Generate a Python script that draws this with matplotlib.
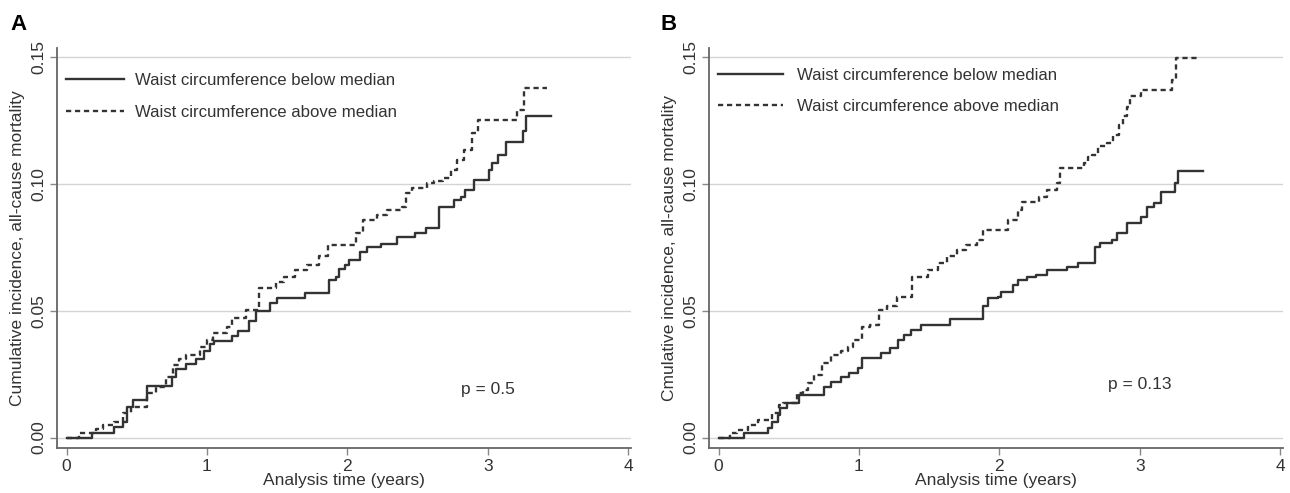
import matplotlib
matplotlib.use("Agg")
import matplotlib.pyplot as plt

plt.rcParams['font.family'] = ['Liberation Sans', 'DejaVu Sans']

# ---- data (time in years, cumulative incidence) ----
a_below_t = [0, 0.18, 0.34, 0.40, 0.43, 0.47, 0.57, 0.75, 0.78, 0.85, 0.92, 0.98, 1.02, 1.05,
             1.18, 1.22, 1.30, 1.35, 1.45, 1.50, 1.70, 1.87, 1.92, 1.94, 1.98, 2.01, 2.09, 2.14,
             2.24, 2.35, 2.48, 2.56, 2.65, 2.76, 2.81, 2.84, 2.90, 3.01, 3.03, 3.07, 3.13, 3.25,
             3.27, 3.45]
a_below_v = [0, 0.002, 0.004, 0.006, 0.012, 0.015, 0.0205, 0.024, 0.027, 0.029, 0.031, 0.034, 0.037, 0.038,
             0.040, 0.042, 0.046, 0.050, 0.053, 0.055, 0.057, 0.062, 0.0635, 0.0665, 0.068, 0.070, 0.0733, 0.075,
             0.0765, 0.079, 0.0807, 0.0828, 0.091, 0.0937, 0.095, 0.0977, 0.1016, 0.1056, 0.1083, 0.1114, 0.1167, 0.1207,
             0.1266, 0.1266]

a_above_t = [0, 0.09, 0.21, 0.26, 0.34, 0.40, 0.46, 0.57, 0.64, 0.71, 0.76, 0.80, 0.85, 0.95,
             1.00, 1.04, 1.14, 1.18, 1.28, 1.37, 1.49, 1.55, 1.63, 1.71, 1.80, 1.86, 2.06, 2.11,
             2.21, 2.28, 2.39, 2.42, 2.46, 2.57, 2.62, 2.68, 2.74, 2.78, 2.83, 2.89, 2.93, 3.21,
             3.26, 3.42]
a_above_v = [0, 0.0018, 0.0034, 0.005, 0.006, 0.0097, 0.0122, 0.0176, 0.020, 0.024, 0.0287, 0.031, 0.0326, 0.0359,
             0.0385, 0.0413, 0.0438, 0.047, 0.0503, 0.059, 0.0615, 0.0635, 0.066, 0.068, 0.0714, 0.076, 0.0807, 0.0858,
             0.0878, 0.0897, 0.091, 0.0964, 0.0985, 0.1003, 0.1010, 0.1024, 0.1056, 0.1095, 0.1134, 0.120, 0.1253, 0.1292,
             0.1379, 0.1379]

b_below_t = [0, 0.18, 0.35, 0.38, 0.42, 0.44, 0.49, 0.57, 0.75, 0.80, 0.87, 0.93, 0.99, 1.02,
             1.16, 1.22, 1.28, 1.32, 1.37, 1.44, 1.65, 1.88, 1.92, 1.99, 2.01, 2.10, 2.13, 2.20,
             2.26, 2.34, 2.48, 2.56, 2.68, 2.72, 2.80, 2.84, 2.91, 3.01, 3.05, 3.10, 3.15, 3.25,
             3.27, 3.45]
b_below_v = [0, 0.0018, 0.0038, 0.006, 0.009, 0.0117, 0.0137, 0.0168, 0.020, 0.022, 0.024, 0.0255, 0.0275, 0.0314,
             0.0334, 0.0354, 0.0385, 0.0405, 0.0425, 0.0444, 0.0467, 0.0517, 0.055, 0.0556, 0.0576, 0.0602, 0.0622, 0.0634,
             0.0642, 0.0659, 0.0673, 0.0689, 0.0753, 0.0767, 0.0779, 0.0807, 0.0846, 0.0871, 0.091, 0.0925, 0.097, 0.1003,
             0.1053, 0.1053]

b_above_t = [0, 0.085, 0.13, 0.21, 0.28, 0.38, 0.43, 0.46, 0.56, 0.60, 0.64, 0.68, 0.74, 0.80,
             0.87, 0.92, 0.96, 1.02, 1.08, 1.14, 1.20, 1.27, 1.38, 1.49, 1.56, 1.63, 1.70, 1.76,
             1.84, 1.88, 2.06, 2.13, 2.16, 2.28, 2.34, 2.41, 2.43, 2.60, 2.63, 2.66, 2.70, 2.77,
             2.81, 2.85, 2.88, 2.91, 2.93, 3.01, 3.23, 3.26, 3.42]
b_above_v = [0, 0.002, 0.003, 0.005, 0.007, 0.0097, 0.013, 0.0137, 0.0176, 0.0188, 0.0216, 0.0247, 0.0295, 0.0326,
             0.034, 0.0359, 0.0385, 0.0438, 0.0444, 0.0503, 0.0517, 0.0553, 0.0635, 0.066, 0.0689, 0.0714, 0.074, 0.076,
             0.0779, 0.0819, 0.0858, 0.0897, 0.093, 0.095, 0.0977, 0.1003, 0.1063, 0.1083, 0.1108, 0.1115, 0.1148, 0.116,
             0.1194, 0.1233, 0.1266, 0.1305, 0.1345, 0.137, 0.141, 0.1496, 0.1496]

label_below = "Waist circumference below median"
label_above = "Waist circumference above median"
yticks = [0.00, 0.05, 0.10, 0.15]
ytick_labels = ["0.00", "0.05", "0.10", "0.15"]
xticks = [0, 1, 2, 3, 4]

panels = [
    ("A", a_below_t, a_below_v, a_above_t, a_above_v, "p = 0.5", 0.0188,
     "Cumulative incidence, all-cause mortality", 3.5, 0.6, 0.937),
    ("B", b_below_t, b_below_v, b_above_t, b_above_v, "p = 0.13", 0.0208,
     "Cmulative incidence, all-cause mortality", 3.9, 0.85, 0.951),
]

fig = plt.figure(figsize=(12.9, 4.93), dpi=100)
axes_left = [57 / 1290, 709 / 1290]
line_col = "#333333"
text_col = "#333333"
spine_col = "#666666"

for (name, bt, bv, at, av, ptxt, py, ylab, hlen, hpad, legy), left in zip(panels, axes_left):
    ax = fig.add_axes([left, 45 / 493, 574 / 1290, 400 / 493])
    ax.set_xlim(-0.068, 4.02)
    ax.set_ylim(-0.0041, 0.1536)

    for y in yticks:
        ax.axhline(y, color="#d4d4d4", lw=1.0, zorder=0)

    ax.plot(bt, bv, drawstyle="steps-post", color=line_col, lw=1.7, label=label_below)
    ax.plot(at, av, drawstyle="steps-post", color=line_col, lw=1.7,
            linestyle=(0, (2.2, 1.6)), label=label_above)

    for s in ["top", "right"]:
        ax.spines[s].set_visible(False)
    for s in ["left", "bottom"]:
        ax.spines[s].set_color(spine_col)
        ax.spines[s].set_linewidth(1.3)

    ax.set_yticks(yticks)
    ax.set_yticklabels(ytick_labels, rotation=90, va="center", fontsize=12.5, color=text_col)
    ax.set_xticks(xticks)
    ax.set_xticklabels([str(x) for x in xticks], fontsize=12.5, color=text_col)
    ax.tick_params(axis="both", direction="out", length=5, width=1.0, color="#888888", pad=3)

    ax.set_xlabel("Analysis time (years)", fontsize=12.5, color=text_col, labelpad=-1)
    ax.set_ylabel(ylab, fontsize=12.5, color=text_col, labelpad=4)

    ax.text(3.0, py, ptxt, ha="center", va="center", fontsize=12.5, color=text_col)

    leg = ax.legend(loc="upper left", bbox_to_anchor=(0.015, legy), frameon=False,
                    fontsize=12.1, handlelength=hlen, handletextpad=hpad,
                    labelspacing=0.98, borderpad=0, borderaxespad=0)
    for t in leg.get_texts():
        t.set_color(text_col)

    fig.text(left - 47 / 1290 if name == "A" else left - 49 / 1290, 1 - 24 / 493, name,
             fontsize=16, fontweight="bold", va="center", ha="left")

fig.savefig("out.png", dpi=100)
